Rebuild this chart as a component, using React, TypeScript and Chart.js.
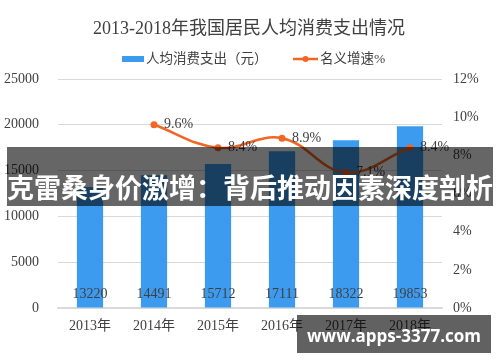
import React, { useEffect, useRef } from "react";
import { Chart, registerables } from "chart.js";

Chart.register(...registerables);

const title = "2013-2018年我国居民人均消费支出情况";
const years = ["2013年", "2014年", "2015年", "2016年", "2017年", "2018年"];
const spending = [13220, 14491, 15712, 17111, 18322, 19853];
const growth: (number | null)[] = [null, 9.6, 8.4, 8.9, 7.1, 8.4];
const barLegend = "人均消费支出（元）";
const lineLegend = "名义增速%";
const bannerText = "克雷桑身价激增：背后推动因素深度剖析";
const siteText = "www.apps-3377.com";

const BAR = "#3D9BEF";
const LINE = "#F26522";
const TEXT = "#404040";
const GRID = "#D9D9D9";
const FONT = "'Liberation Serif', 'Noto Sans CJK SC', serif";

const decorPlugin = {
  id: "decor",
  afterDatasetsDraw(chart: any) {
    const ctx = chart.ctx;
    const y = chart.scales.y;
    ctx.save();
    ctx.fillStyle = TEXT;
    ctx.font = `14px ${FONT}`;
    ctx.textBaseline = "middle";
    const barMeta = chart.getDatasetMeta(1);
    barMeta.data.forEach((bar: any, i: number) => {
      ctx.textAlign = "center";
      ctx.fillText(String(spending[i]), bar.x, y.getPixelForValue(0) - 14);
    });
    const lineMeta = chart.getDatasetMeta(0);
    lineMeta.data.forEach((pt: any, i: number) => {
      const v = growth[i];
      if (v == null) return;
      ctx.textAlign = "left";
      ctx.fillText(v.toFixed(1) + "%", pt.x + 10, pt.y);
    });
    ctx.restore();
  },
  afterDraw(chart: any) {
    const ctx = chart.ctx;
    ctx.save();
    ctx.fillStyle = TEXT;
    ctx.textBaseline = "middle";
    ctx.textAlign = "center";
    ctx.font = `18px ${FONT}`;
    ctx.fillText(title, 249, 29);
    ctx.fillStyle = BAR;
    ctx.fillRect(122, 56, 22, 6);
    ctx.fillStyle = TEXT;
    ctx.textAlign = "left";
    ctx.font = `13.5px ${FONT}`;
    ctx.fillText(barLegend, 146, 59);
    ctx.strokeStyle = LINE;
    ctx.lineWidth = 2.5;
    ctx.beginPath();
    ctx.moveTo(293, 59);
    ctx.lineTo(318, 59);
    ctx.stroke();
    ctx.fillStyle = LINE;
    ctx.beginPath();
    ctx.arc(305.5, 59, 3, 0, Math.PI * 2);
    ctx.fill();
    ctx.fillStyle = TEXT;
    ctx.fillText(lineLegend, 320, 59);
    ctx.restore();
  },
};

export default function App() {
  const ref = useRef<HTMLCanvasElement>(null);
  useEffect(() => {
    if (!ref.current) return;
    const chart = new Chart(ref.current, {
      type: "bar",
      data: {
        labels: years,
        datasets: [
          {
            type: "line",
            label: lineLegend,
            data: growth,
            yAxisID: "y1",
            borderColor: LINE,
            backgroundColor: LINE,
            borderWidth: 2.5,
            pointRadius: 3.5,
            pointBackgroundColor: LINE,
            pointBorderWidth: 0,
            tension: 0.4,
            order: 0,
          } as any,
          {
            type: "bar",
            label: barLegend,
            data: spending,
            yAxisID: "y",
            backgroundColor: BAR,
            categoryPercentage: 1,
            barPercentage: 0.41,
            order: 1,
          },
        ],
      },
      options: {
        animation: false,
        responsive: false,
        maintainAspectRatio: false,
        layout: { padding: { top: 79, left: 0, right: 0, bottom: 0 } },
        plugins: {
          legend: { display: false },
          title: { display: false },
          tooltip: { enabled: false },
        },
        scales: {
          x: {
            grid: { display: false, drawTicks: false },
            border: { display: true, color: GRID, width: 1.5 },
            ticks: { color: TEXT, font: { size: 14, family: FONT }, padding: 10, maxRotation: 0 },
            afterFit: (s: any) => {
              s.height = 54;
            },
          },
          y: {
            position: "left",
            min: 0,
            max: 25000,
            ticks: {
              stepSize: 5000,
              color: TEXT,
              font: { size: 14, family: FONT },
              padding: 19,
              callback: (v: any) => String(v),
            },
            grid: { color: GRID, drawTicks: false },
            border: { display: false },
            afterFit: (s: any) => {
              s.width = 58;
            },
          },
          y1: {
            position: "right",
            min: 0,
            max: 12,
            ticks: {
              stepSize: 2,
              color: TEXT,
              font: { size: 14, family: FONT },
              padding: 11,
              callback: (v: any) => v + "%",
            },
            grid: { display: false, drawTicks: false },
            border: { display: false },
            afterFit: (s: any) => {
              s.width = 58;
            },
          },
        },
      },
      plugins: [decorPlugin],
    });
    return () => chart.destroy();
  }, []);

  return (
    <div style={{ position: "absolute", left: 0, top: 0, width: 500, height: 362, background: "#fff", overflow: "hidden" }}>
      <canvas ref={ref} width={500} height={362} style={{ display: "block", width: 500, height: 362 }} />
      <div
        style={{
          position: "absolute",
          left: 7,
          top: 147,
          width: 486,
          height: 59,
          background: "rgba(0,0,0,0.6)",
        }}
      />
      <div
        style={{
          position: "absolute",
          left: 7,
          top: 171,
          width: 486,
          height: 32,
          lineHeight: "32px",
          color: "#fff",
          fontFamily: "'Noto Sans CJK SC', sans-serif",
          fontWeight: 700,
          fontSize: 27,
          whiteSpace: "nowrap",
          overflow: "hidden",
        }}
      >
        {bannerText}
      </div>
      <div
        style={{
          position: "absolute",
          left: 297,
          top: 315,
          width: 194,
          height: 38,
          background: "rgba(0,0,0,0.62)",
          color: "#fff",
          fontFamily: "'Open Sans', 'DejaVu Sans', sans-serif",
          fontWeight: 700,
          fontSize: 17,
          lineHeight: "42px",
          textAlign: "center",
          whiteSpace: "nowrap",
          overflow: "hidden",
        }}
      >
        {siteText}
      </div>
    </div>
  );
}
